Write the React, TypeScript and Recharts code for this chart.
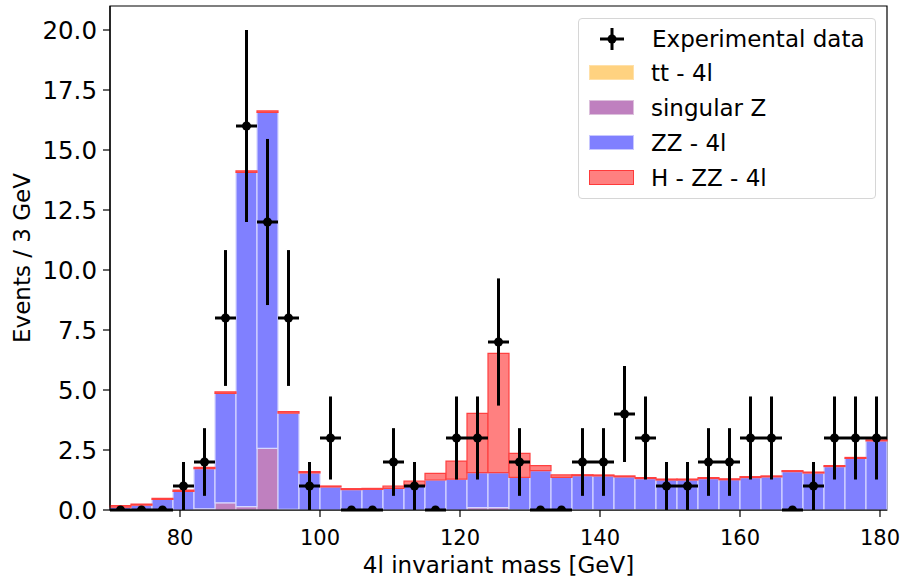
import React from "react";
import {
  ComposedChart,
  Bar,
  Scatter,
  ErrorBar,
  XAxis,
  YAxis,
  ReferenceArea,
} from "recharts";

// bin centres, 3 GeV wide bins from 70 to 181
const binCenters = [
  71.5, 74.5, 77.5, 80.5, 83.5, 86.5, 89.5, 92.5, 95.5, 98.5, 101.5, 104.5,
  107.5, 110.5, 113.5, 116.5, 119.5, 122.5, 125.5, 128.5, 131.5, 134.5, 137.5,
  140.5, 143.5, 146.5, 149.5, 152.5, 155.5, 158.5, 161.5, 164.5, 167.5, 170.5,
  173.5, 176.5, 179.5,
];

const ttFourL = [
  0, 0, 0, 0, 0, 0, 0, 0, 0, 0, 0, 0, 0, 0, 0, 0, 0, 0, 0, 0.01, 0.01, 0.01,
  0.01, 0.01, 0.01, 0.01, 0.01, 0.01, 0, 0, 0, 0, 0, 0, 0, 0, 0,
];

const singularZ = [
  0, 0, 0, 0, 0.05, 0.3, 0.14, 2.57, 0.03, 0, 0, 0, 0, 0, 0, 0, 0, 0.1, 0.1, 0,
  0, 0, 0, 0, 0, 0, 0, 0, 0, 0, 0, 0, 0, 0, 0, 0, 0,
];

const zzFourL = [
  0.12, 0.2, 0.44, 0.78, 1.67, 4.56, 13.93, 14.0, 4.01, 1.55, 0.96, 0.85, 0.86,
  0.9, 1.0, 1.25, 1.29, 1.46, 1.46, 1.35, 1.63, 1.35, 1.42, 1.41, 1.37, 1.3,
  1.24, 1.24, 1.31, 1.26, 1.35, 1.38, 1.6, 1.54, 1.81, 2.15, 2.88,
];

const higgsZZ = [
  0.06, 0.05, 0.05, 0.05, 0.06, 0.06, 0.06, 0.06, 0.06, 0.05, 0.04, 0.04, 0.04,
  0.1, 0.2, 0.28, 0.75, 2.47, 4.97, 1.0, 0.21, 0.1, 0.04, 0.04, 0.04, 0.04,
  0.04, 0.04, 0.04, 0.04, 0.04, 0.04, 0.04, 0.04, 0.04, 0.04, 0.04,
];

const observed = [
  0, 0, 0, 1, 2, 8, 16, 12, 8, 1, 3, 0, 0, 2, 1, 0, 3, 3, 7, 2, 0, 0, 2, 2, 4,
  3, 1, 1, 2, 2, 3, 3, 0, 1, 3, 3, 3,
];

const observedErr = [
  0, 0, 0, 1, 1.41, 2.83, 4, 3.46, 2.83, 1, 1.73, 0, 0, 1.41, 1, 0, 1.73, 1.73,
  2.65, 1.41, 0, 0, 1.41, 1.41, 2, 1.73, 1, 1, 1.41, 1.41, 1.73, 1.73, 0, 1,
  1.73, 1.73, 1.73,
];

const halfBin = 1.5;
const xTicks = [80, 100, 120, 140, 160, 180];
const yTicks = [0, 2.5, 5, 7.5, 10, 12.5, 15, 17.5, 20];

const histData = binCenters.map((c, i) => ({
  bin: c,
  tt: ttFourL[i],
  z: singularZ[i],
  zz: zzFourL[i],
  h: higgsZZ[i],
}));

const points = binCenters.map((c, i) => ({
  x: c,
  y: observed[i],
  ex: halfBin,
  ey: observedErr[i],
}));

const font = "'DejaVu Sans', sans-serif";

const legendItems = [
  { name: "tt - 4l", fill: "#ffd280", stroke: "#ffe0a8" },
  { name: "singular Z", fill: "#bf80bf", stroke: "#dcc0dc" },
  { name: "ZZ - 4l", fill: "#8080ff", stroke: "#c8c8ff" },
  { name: "H - ZZ - 4l", fill: "#ff8080", stroke: "#ff3a3a" },
];

// data points sitting on the x axis are clipped to the upper half, like the original
const DataDot = (p: any) => {
  const r = 4.5;
  if (p.payload && p.payload.y === 0) {
    return (
      <path
        d={`M${p.cx - r},${p.cy} A${r},${r} 0 0 1 ${p.cx + r},${p.cy} Z`}
        fill="#000"
      />
    );
  }
  return <circle cx={p.cx} cy={p.cy} r={r} fill="#000" />;
};

const ChartLegend = () => (
  <div
    style={{
      position: "absolute",
      left: 578,
      top: 18,
      width: 296,
      height: 179,
      border: "1px solid #d6d6d6",
      borderRadius: 4,
      background: "rgba(255,255,255,0.85)",
      fontFamily: font,
      fontSize: 23,
      color: "#000",
      whiteSpace: "nowrap",
    }}
  >
    <div style={{ position: "absolute", left: 0, top: 2, height: 35, display: "flex", alignItems: "center" }}>
      <svg width={70} height={30}>
        <line x1={21} y1={15} x2={45} y2={15} stroke="#000" strokeWidth={3} />
        <line x1={33} y1={4} x2={33} y2={26} stroke="#000" strokeWidth={3} />
        <circle cx={33} cy={15} r={4.5} fill="#000" />
      </svg>
      <span style={{ marginLeft: 3 }}>Experimental data</span>
    </div>
    {legendItems.map((it, i) => (
      <div
        key={it.name}
        style={{
          position: "absolute",
          left: 0,
          top: 36 + i * 35,
          height: 35,
          display: "flex",
          alignItems: "center",
        }}
      >
        <div
          style={{
            marginLeft: 10,
            width: 43,
            height: 13,
            background: it.fill,
            border: `1.5px solid ${it.stroke}`,
          }}
        />
        <span style={{ marginLeft: 17 }}>{it.name}</span>
      </div>
    ))}
  </div>
);

const App = () => {
  return (
    <div style={{ position: "absolute", left: 0, top: 0, width: 903, height: 583 }}>
      <ComposedChart
        width={903}
        height={583}
        data={histData}
        margin={{ top: 6, right: 16, bottom: 43, left: 6 }}
        barCategoryGap={0}
        barGap={0}
      >
        <XAxis xAxisId="cat" dataKey="bin" hide height={0} />
        <XAxis
          xAxisId="num"
          dataKey="x"
          type="number"
          domain={[70, 181]}
          allowDataOverflow
          ticks={xTicks}
          height={30}
          tickSize={7}
          tickMargin={13}
          axisLine={{ stroke: "#000", strokeWidth: 1.2 }}
          tickLine={{ stroke: "#000", strokeWidth: 1.2 }}
          tick={{ fill: "#000", fontSize: 21, fontFamily: font }}
          label={{
            value: "4l invariant mass [GeV]",
            position: "bottom",
            offset: 17,
            fill: "#000",
            fontSize: 23,
            fontFamily: font,
          }}
        />
        <YAxis
          type="number"
          domain={[0, 21]}
          allowDataOverflow
          ticks={yTicks}
          width={104}
          tickSize={7}
          tickMargin={6}
          tickFormatter={(v: number) => v.toFixed(1)}
          axisLine={{ stroke: "#000", strokeWidth: 1.2 }}
          tickLine={{ stroke: "#000", strokeWidth: 1.2 }}
          tick={{ fill: "#000", fontSize: 24.5, fontFamily: font }}
          label={{
            value: "Events / 3 GeV",
            angle: -90,
            position: "insideLeft",
            offset: 16,
            style: { textAnchor: "middle" },
            fill: "#000",
            fontSize: 23,
            fontFamily: font,
          }}
        />
        <Bar xAxisId="cat" dataKey="tt" stackId="s" fill="#ffd280" isAnimationActive={false} />
        <Bar
          xAxisId="cat"
          dataKey="z"
          stackId="s"
          fill="#bf80bf"
          stroke="#e4cce4"
          strokeWidth={1}
          isAnimationActive={false}
        />
        <Bar
          xAxisId="cat"
          dataKey="zz"
          stackId="s"
          fill="#8080ff"
          stroke="#d6d6ff"
          strokeWidth={1.2}
          isAnimationActive={false}
        />
        <Bar
          xAxisId="cat"
          dataKey="h"
          stackId="s"
          fill="#ff8080"
          stroke="#ff4040"
          strokeWidth={1.2}
          isAnimationActive={false}
        />
        <Scatter
          xAxisId="num"
          data={points}
          dataKey="y"
          fill="#000"
          isAnimationActive={false}
          shape={DataDot}
        >
          <ErrorBar dataKey="ey" direction="y" width={0} stroke="#000" strokeWidth={3} />
          <ErrorBar dataKey="ex" direction="x" width={0} stroke="#000" strokeWidth={3} />
        </Scatter>
        <ReferenceArea
          xAxisId="num"
          x1={70}
          x2={181}
          y1={0}
          y2={21}
          fill="none"
          stroke="#000"
          strokeWidth={1.2}
          ifOverflow="visible"
        />
      </ComposedChart>
      <ChartLegend />
    </div>
  );
};

export default App;
